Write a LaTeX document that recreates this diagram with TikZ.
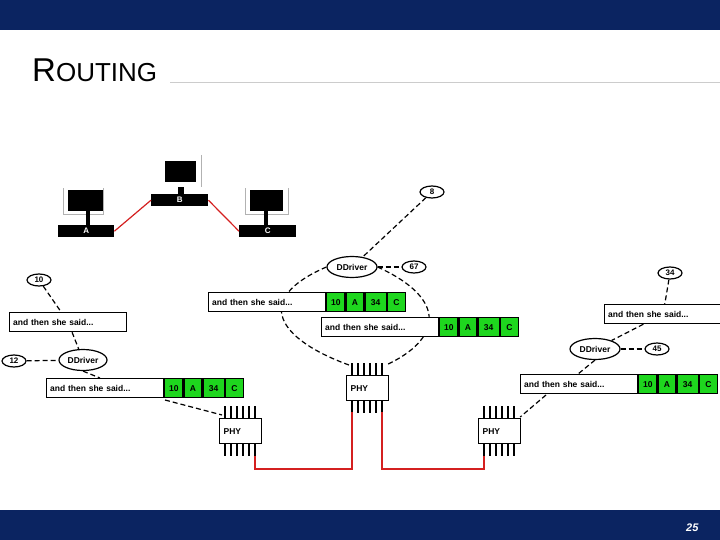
\documentclass[tikz,border=0pt]{standalone}
\usepackage{fontspec}
\setmainfont{Liberation Sans}
\usetikzlibrary{shapes.geometric}
\definecolor{navy}{HTML}{0B2461}
\definecolor{pgreen}{HTML}{1ED61E}
\definecolor{wire}{HTML}{D42020}
\tikzset{
 oval/.style={ellipse,draw,line width=1.2pt,inner sep=0pt,minimum width=24pt,minimum height=12pt,font=\bfseries\fontsize{8}{9}\selectfont},
 drv/.style={ellipse,draw,line width=1.2pt,inner sep=0pt,minimum width=50pt,minimum height=21pt,font=\bfseries\fontsize{8.5}{10}\selectfont},
 txtbox/.style={draw,line width=1.2pt,fill=white,minimum width=117pt,minimum height=19pt,inner sep=0pt,anchor=north west,font=\bfseries\fontsize{8.5}{10}\selectfont,text width=110pt,align=left},
 cell/.style={draw,line width=1.2pt,fill=pgreen,minimum width=18pt,minimum height=19pt,inner sep=0pt,anchor=north west,font=\bfseries\fontsize{8.5}{10}\selectfont},
 phybox/.style={draw,line width=1.2pt,fill=white,minimum width=42pt,minimum height=25pt,inner sep=0pt,anchor=north west,font=\bfseries\fontsize{8.5}{10}\selectfont,text width=34pt,align=left},
 dsh/.style={line width=1.2pt,dash pattern=on 5pt off 3pt},
 wirestyle/.style={draw=wire,line width=1.2pt},
 base/.style={fill=black,text=white,inner sep=0pt,anchor=north west,font=\bfseries\fontsize{8}{9}\selectfont},
}
\newcommand\packet[3]{% name, x, y
 \node[txtbox] (#1t) at (#2,#3) {and then she said...};
 \node[cell] (#1a) at (#1t.north east) {10};
 \node[cell] (#1b) at (#1a.north east) {A};
 \node[cell,minimum width=21pt] (#1c) at (#1b.north east) {34};
 \node[cell] (#1d) at (#1c.north east) {C};}
\newcommand\phychip[3]{% name,x,y
 \node[phybox] (#1) at (#2,#3) {PHY};
 \foreach \i in {0,...,5}{\draw[line width=1.2pt] ([xshift=6+\i*6pt]#1.north west) -- ++(0,12pt);
 \draw[line width=1.2pt] ([xshift=6+\i*6pt]#1.south west) -- ++(0,-12pt);}}
\begin{document}
\begin{tikzpicture}[x=1pt,y=-1pt]
\useasboundingbox (0,0) rectangle (720,540);
\fill[navy] (0,0) rectangle (720,30);
\fill[navy] (0,510) rectangle (720,540);
\node[anchor=base west,inner sep=0pt,font=\fontsize{33}{34}\selectfont] (title) at (32,82) {R\fontsize{26}{28}\selectfont OUTING};
\draw[gray!40,thick] (170,82) -- (720,82);
\node[anchor=base east,text=white,font=\itshape\bfseries\fontsize{11}{12}\selectfont] (pg) at (702,531) {25};
% computers
\draw[gray!60,thick] (63,214) -- (63,188) (103,188) -- (103,214) -- (63,214);
\fill (68,190) rectangle (103,211);
\fill (86,211) rectangle (90,225);
\node[base,minimum width=56pt,minimum height=12pt] (A) at (58,225) {A};
\fill (165,161) rectangle (196,182);
\draw[gray!60,thick] (201,155) -- (201,187);
\fill (178,187) rectangle (184,194);
\node[base,minimum width=57pt,minimum height=12pt] (B) at (151,194) {B};
\draw[gray!60,thick] (245,214) -- (245,188) (288,188) -- (288,214) -- (245,214);
\fill (250,190) rectangle (283,211);
\fill (264,211) rectangle (268,225);
\node[base,minimum width=57pt,minimum height=12pt] (C) at (239,225) {C};
\draw[wirestyle] (A.east) -- (B.west);
\draw[wirestyle] (B.east) -- (C.west);
% center
\node[oval] (o8) at (432,192) {8};
\node[drv] (d1) at (352,267) {DDriver};
\node[oval] (o67) at (414,267) {67};
\draw[dsh] (o8) -- (d1);
\draw[dsh] (d1) -- (o67);
\phychip{p1}{346}{375}
\draw[dsh] (d1.west) .. controls (250,300) and (280,340) .. ([xshift=3pt,yshift=10pt]p1.north west);
\draw[dsh] (d1.east) .. controls (450,300) and (440,340) .. ([xshift=-3pt,yshift=10pt]p1.north east);
\packet{k1}{208}{292}
\packet{k2}{321}{317}
% left
\node[oval] (o10) at (39,280) {10};
\node[txtbox] (lt) at (9,312) {and then she said...};
\node[drv,minimum width=48pt] (d2) at (83,360) {DDriver};
\node[oval] (o12) at (14,361) {12};
\draw[dsh] (o10) -- (lt);
\draw[dsh] (lt) -- (d2);
\draw[dsh] (o12) -- (d2);
\phychip{p2}{219}{418}
\draw[dsh] (d2.south) -- (100,378);
\packet{k3}{46}{378}
\draw[dsh] (165,400) -- ([xshift=3pt,yshift=3pt]p2.north west);
% right
\node[oval] (o34) at (670,273) {34};
\node[txtbox] (rt) at (604,304) {and then she said...};
\node[drv] (d3) at (595,349) {DDriver};
\node[oval] (o45) at (657,349) {45};
\draw[dsh] (o34) -- (rt);
\draw[dsh] (rt) -- (d3);
\draw[dsh] (d3) -- (o45);
\packet{k4}{520}{374}
\draw[dsh] (d3.south) -- (578,374);
\phychip{p3}{478}{418}
\draw[dsh] (546,395) -- ([xshift=-1pt,yshift=1pt]p3.north east);
% wires
\draw[wirestyle] ([xshift=36pt,yshift=-12pt]p2.south west) |- (352,469) -- (352,412);
\draw[wirestyle] (382,412) |- (484,469) -- (484,456);
\end{tikzpicture}
\end{document}
